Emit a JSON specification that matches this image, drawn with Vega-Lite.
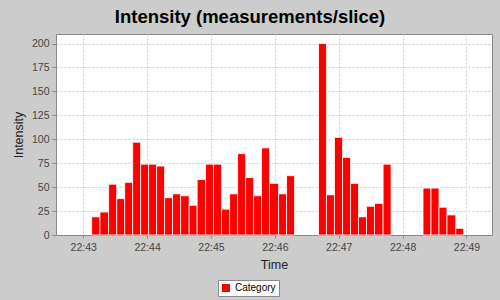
{
  "$schema": "https://vega.github.io/schema/vega-lite/v6.json",
  "width": 436,
  "height": 201,
  "autosize": "none",
  "padding": {"left": 56, "top": 34, "right": 8, "bottom": 65},
  "background": "#cccccc",
  "title": {
    "text": "Intensity (measurements/slice)",
    "anchor": "middle",
    "frame": "group",
    "font": "Liberation Sans",
    "fontSize": 18.5,
    "fontWeight": "bold",
    "color": "#000000",
    "offset": 8,
    "dx": -24
  },
  "data": {
    "values": [
      {"start": "2024-01-01T22:43:07.900", "end": "2024-01-01T22:43:15.700", "intensity": 19, "series": "Category"},
      {"start": "2024-01-01T22:43:15.700", "end": "2024-01-01T22:43:23.800", "intensity": 24, "series": "Category"},
      {"start": "2024-01-01T22:43:23.800", "end": "2024-01-01T22:43:31.400", "intensity": 53, "series": "Category"},
      {"start": "2024-01-01T22:43:31.400", "end": "2024-01-01T22:43:38.900", "intensity": 38, "series": "Category"},
      {"start": "2024-01-01T22:43:38.900", "end": "2024-01-01T22:43:46.400", "intensity": 55, "series": "Category"},
      {"start": "2024-01-01T22:43:46.400", "end": "2024-01-01T22:43:53.900", "intensity": 97, "series": "Category"},
      {"start": "2024-01-01T22:43:53.900", "end": "2024-01-01T22:44:01.400", "intensity": 74, "series": "Category"},
      {"start": "2024-01-01T22:44:01.400", "end": "2024-01-01T22:44:08.900", "intensity": 74, "series": "Category"},
      {"start": "2024-01-01T22:44:08.900", "end": "2024-01-01T22:44:16.400", "intensity": 72, "series": "Category"},
      {"start": "2024-01-01T22:44:16.400", "end": "2024-01-01T22:44:23.900", "intensity": 39, "series": "Category"},
      {"start": "2024-01-01T22:44:23.900", "end": "2024-01-01T22:44:31.500", "intensity": 43, "series": "Category"},
      {"start": "2024-01-01T22:44:31.500", "end": "2024-01-01T22:44:39.500", "intensity": 41, "series": "Category"},
      {"start": "2024-01-01T22:44:39.500", "end": "2024-01-01T22:44:47.000", "intensity": 31, "series": "Category"},
      {"start": "2024-01-01T22:44:47.000", "end": "2024-01-01T22:44:54.900", "intensity": 58, "series": "Category"},
      {"start": "2024-01-01T22:44:54.900", "end": "2024-01-01T22:45:02.400", "intensity": 74, "series": "Category"},
      {"start": "2024-01-01T22:45:02.400", "end": "2024-01-01T22:45:09.900", "intensity": 74, "series": "Category"},
      {"start": "2024-01-01T22:45:09.900", "end": "2024-01-01T22:45:17.500", "intensity": 27, "series": "Category"},
      {"start": "2024-01-01T22:45:17.500", "end": "2024-01-01T22:45:25.000", "intensity": 43, "series": "Category"},
      {"start": "2024-01-01T22:45:25.000", "end": "2024-01-01T22:45:32.500", "intensity": 85, "series": "Category"},
      {"start": "2024-01-01T22:45:32.500", "end": "2024-01-01T22:45:40.000", "intensity": 60, "series": "Category"},
      {"start": "2024-01-01T22:45:40.000", "end": "2024-01-01T22:45:47.500", "intensity": 41, "series": "Category"},
      {"start": "2024-01-01T22:45:47.500", "end": "2024-01-01T22:45:55.000", "intensity": 91, "series": "Category"},
      {"start": "2024-01-01T22:45:55.000", "end": "2024-01-01T22:46:03.500", "intensity": 54, "series": "Category"},
      {"start": "2024-01-01T22:46:03.500", "end": "2024-01-01T22:46:11.000", "intensity": 43, "series": "Category"},
      {"start": "2024-01-01T22:46:11.000", "end": "2024-01-01T22:46:18.500", "intensity": 62, "series": "Category"},
      {"start": "2024-01-01T22:46:41.000", "end": "2024-01-01T22:46:48.500", "intensity": 200, "series": "Category"},
      {"start": "2024-01-01T22:46:48.500", "end": "2024-01-01T22:46:56.000", "intensity": 42, "series": "Category"},
      {"start": "2024-01-01T22:46:56.000", "end": "2024-01-01T22:47:03.600", "intensity": 102, "series": "Category"},
      {"start": "2024-01-01T22:47:03.600", "end": "2024-01-01T22:47:11.100", "intensity": 81, "series": "Category"},
      {"start": "2024-01-01T22:47:11.100", "end": "2024-01-01T22:47:18.600", "intensity": 54, "series": "Category"},
      {"start": "2024-01-01T22:47:18.600", "end": "2024-01-01T22:47:26.100", "intensity": 19, "series": "Category"},
      {"start": "2024-01-01T22:47:26.100", "end": "2024-01-01T22:47:33.600", "intensity": 30, "series": "Category"},
      {"start": "2024-01-01T22:47:33.600", "end": "2024-01-01T22:47:41.700", "intensity": 33, "series": "Category"},
      {"start": "2024-01-01T22:47:41.700", "end": "2024-01-01T22:47:49.200", "intensity": 74, "series": "Category"},
      {"start": "2024-01-01T22:48:19.200", "end": "2024-01-01T22:48:26.700", "intensity": 49, "series": "Category"},
      {"start": "2024-01-01T22:48:26.700", "end": "2024-01-01T22:48:34.200", "intensity": 49, "series": "Category"},
      {"start": "2024-01-01T22:48:34.200", "end": "2024-01-01T22:48:41.700", "intensity": 29, "series": "Category"},
      {"start": "2024-01-01T22:48:41.700", "end": "2024-01-01T22:48:49.900", "intensity": 21, "series": "Category"},
      {"start": "2024-01-01T22:48:49.900", "end": "2024-01-01T22:48:57.400", "intensity": 7, "series": "Category"}
    ]
  },
  "mark": {"type": "bar", "stroke": "#ffffff", "strokeWidth": 1, "strokeOpacity": 0.8},
  "encoding": {
    "x": {
      "field": "start",
      "type": "temporal",
      "scale": {
        "domain": [
          {"year": 2024, "month": 1, "date": 1, "hours": 22, "minutes": 42, "seconds": 34, "milliseconds": 400},
          {"year": 2024, "month": 1, "date": 1, "hours": 22, "minutes": 49, "seconds": 24, "milliseconds": 0}
        ],
        "nice": false
      },
      "axis": {
        "title": "Time",
        "format": "%H:%M",
        "tickCount": 7,
        "labelFont": "Liberation Sans",
        "labelFontSize": 10.5,
        "labelColor": "#444444",
        "labelFlush": false,
        "labelPadding": 4,
        "titleFont": "Liberation Sans",
        "titleFontSize": 12.5,
        "titleFontWeight": "normal",
        "titleColor": "#222222",
        "titlePadding": 6,
        "grid": true,
        "gridDash": [2, 2],
        "gridColor": "#d0d0d0",
        "tickSize": 3,
        "tickColor": "#888888",
        "domainColor": "#888888"
      }
    },
    "x2": {"field": "end"},
    "y": {
      "field": "intensity",
      "type": "quantitative",
      "stack": null,
      "scale": {"domain": [0, 210], "nice": false, "padding": 0, "zero": true},
      "axis": {
        "title": "Intensity",
        "values": [0, 25, 50, 75, 100, 125, 150, 175, 200],
        "labelFont": "Liberation Sans",
        "labelFontSize": 10.5,
        "labelColor": "#444444",
        "labelPadding": 3,
        "titleFont": "Liberation Sans",
        "titleFontSize": 12.5,
        "titleFontWeight": "normal",
        "titleColor": "#222222",
        "titlePadding": 6,
        "grid": true,
        "gridDash": [2, 2],
        "gridColor": "#d0d0d0",
        "tickSize": 4,
        "tickColor": "#888888",
        "domainColor": "#888888"
      }
    },
    "y2": {"datum": 0},
    "color": {
      "field": "series",
      "type": "nominal",
      "scale": {"range": ["#ff0000"]},
      "legend": {
        "orient": "none",
        "legendX": 162,
        "legendY": 246,
        "title": null,
        "symbolType": "square",
        "symbolSize": 64,
        "symbolStrokeWidth": 0,
        "symbolOpacity": 1,
        "labelFont": "Liberation Sans",
        "labelFontSize": 10,
        "labelColor": "#000000",
        "labelOffset": 4,
        "fillColor": "#ffffff",
        "strokeColor": "#888888",
        "padding": 3
      }
    }
  },
  "config": {
    "view": {"fill": "#ffffff", "stroke": "#888888"}
  }
}
